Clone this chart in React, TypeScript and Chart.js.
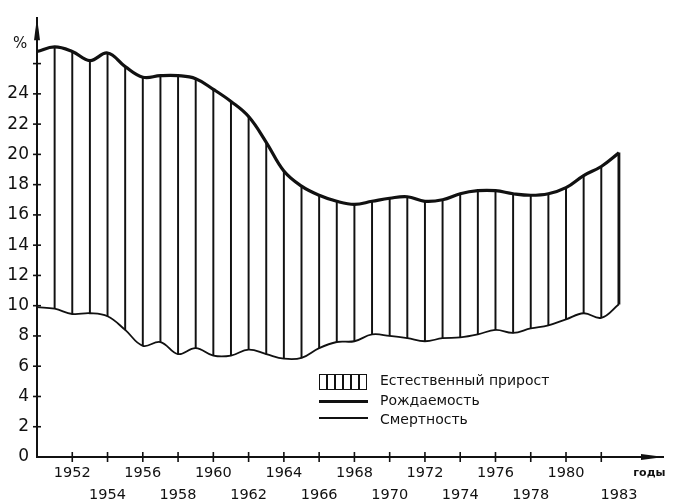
import React, { useEffect, useRef } from "react";
import { Chart, registerables } from "chart.js";

Chart.register(...registerables);

// ---- data ----
const years = [
  1950, 1951, 1952, 1953, 1954, 1955, 1956, 1957, 1958, 1959,
  1960, 1961, 1962, 1963, 1964, 1965, 1966, 1967, 1968, 1969,
  1970, 1971, 1972, 1973, 1974, 1975, 1976, 1977, 1978, 1979,
  1980, 1981, 1982, 1983,
];
// Рождаемость (birth rate, ‰)
const birthRate = [
  26.8, 27.1, 26.8, 26.2, 26.7, 25.8, 25.1, 25.2, 25.2, 25.0,
  24.3, 23.5, 22.5, 20.8, 18.9, 17.9, 17.3, 16.9, 16.7, 16.9,
  17.1, 17.2, 16.9, 17.0, 17.4, 17.6, 17.6, 17.4, 17.3, 17.4,
  17.8, 18.6, 19.2, 20.1,
];
// Смертность (death rate, ‰)
const deathRate = [
  9.9, 9.8, 9.45, 9.5, 9.3, 8.4, 7.35, 7.6, 6.8, 7.2,
  6.7, 6.7, 7.1, 6.8, 6.5, 6.55, 7.2, 7.6, 7.65, 8.1,
  8.0, 7.85, 7.65, 7.85, 7.9, 8.1, 8.4, 8.2, 8.5, 8.7,
  9.1, 9.5, 9.2, 10.1,
];
const xTickYears = [1952, 1954, 1956, 1958, 1960, 1962, 1964, 1966, 1968, 1970, 1972, 1974, 1976, 1978, 1980, 1982];
const xExtraLabelYear = 1983;
const xUnitLabel = "годы";
const xUnitLabelPos = 1984.73;
const yTicks = [0, 2, 4, 6, 8, 10, 12, 14, 16, 18, 20, 22, 24, 26];
const yLabelMax = 24;
const yUnitLabel = "%";
const legendLabels = ["Естественный прирост", "Рождаемость", "Смертность"];

const INK = "#111";
const FONT = "'DejaVu Sans', sans-serif";

const axisDecor = {
  id: "axisDecor",
  afterDraw(chart: any) {
    const { ctx } = chart;
    const xs = chart.scales.x;
    const ys = chart.scales.y;
    const ax = xs.left;
    const ay = ys.bottom;
    ctx.save();
    ctx.strokeStyle = INK;
    ctx.fillStyle = INK;
    ctx.lineWidth = 1.6;
    ys.ticks.forEach((t: any) => {
      if (t.value === 0) return;
      const p = ys.getPixelForValue(t.value);
      ctx.beginPath();
      ctx.moveTo(ax - 4, p);
      ctx.lineTo(ax + 4, p);
      ctx.stroke();
    });
    xs.ticks.forEach((t: any) => {
      if (!xTickYears.includes(t.value)) return;
      const p = xs.getPixelForValue(t.value);
      ctx.beginPath();
      ctx.moveTo(p, ay - 5);
      ctx.lineTo(p, ay + 5);
      ctx.stroke();
    });
    const top = ys.top;
    ctx.beginPath();
    ctx.moveTo(ax, top - 1);
    ctx.lineTo(ax - 3, top + 22);
    ctx.lineTo(ax + 3, top + 22);
    ctx.closePath();
    ctx.fill();
    const right = xs.right;
    ctx.beginPath();
    ctx.moveTo(right + 1, ay);
    ctx.lineTo(right - 22, ay - 3);
    ctx.lineTo(right - 22, ay + 3);
    ctx.closePath();
    ctx.fill();
    ctx.restore();
  },
};

export default function App() {
  const canvasRef = useRef<HTMLCanvasElement | null>(null);

  useEffect(() => {
    if (!canvasRef.current) return;
    const lastYear = years[years.length - 1];
    const hatch = years
      .map((y, i) => ({ x: y, y: [deathRate[i], birthRate[i]] }))
      .filter((d) => d.x > years[0]);
    const chart = new Chart(canvasRef.current, {
      type: "line",
      data: {
        datasets: [
          {
            type: "bar",
            label: legendLabels[0],
            data: hatch.filter((d) => d.x < lastYear) as any,
            backgroundColor: INK,
            borderWidth: 0,
            barThickness: 1.3,
            grouped: false,
            order: 2,
          } as any,
          {
            type: "bar",
            label: legendLabels[0],
            data: hatch.filter((d) => d.x === lastYear) as any,
            backgroundColor: INK,
            borderWidth: 0,
            barThickness: 2.2,
            grouped: false,
            order: 2,
          } as any,
          {
            type: "line",
            label: legendLabels[1],
            data: years.map((y, i) => ({ x: y, y: birthRate[i] })),
            borderColor: INK,
            borderWidth: 3.2,
            pointRadius: 0,
            tension: 0.4,
            order: 1,
          },
          {
            type: "line",
            label: legendLabels[2],
            data: years.map((y, i) => ({ x: y, y: deathRate[i] })),
            borderColor: INK,
            borderWidth: 1.8,
            pointRadius: 0,
            tension: 0.4,
            order: 1,
          },
        ],
      },
      options: {
        animation: false,
        responsive: true,
        maintainAspectRatio: false,
        layout: { padding: { top: 13, right: 16, left: 0, bottom: 0 } },
        plugins: { legend: { display: false }, tooltip: { enabled: false } },
        scales: {
          x: {
            type: "linear",
            min: 1950,
            max: 1985.5,
            offset: false,
            grid: { display: true, drawOnChartArea: false, drawTicks: false },
            border: { display: true, color: INK, width: 2 },
            afterBuildTicks: (s: any) => {
              s.ticks = [...xTickYears, xExtraLabelYear, xUnitLabelPos].map((v) => ({ value: v }));
            },
            afterFit: (s: any) => {
              s.height = 46;
            },
            ticks: {
              autoSkip: false,
              maxRotation: 0,
              minRotation: 0,
              padding: 5,
              color: INK,
              font: (c: any) =>
                c.tick && c.tick.value === xUnitLabelPos
                  ? { family: FONT, size: 11, weight: "bold", lineHeight: "22px" }
                  : { family: FONT, size: 14.5, lineHeight: "22px" },
              callback: (v: any) => {
                if (v === xUnitLabelPos) return [xUnitLabel, ""];
                if (v === xExtraLabelYear) return ["", String(v)];
                if (v === 1982) return "";
                return (v - 1952) % 4 === 0 ? [String(v), ""] : ["", String(v)];
              },
            },
          },
          y: {
            type: "linear",
            min: 0,
            max: 29,
            grid: { display: true, drawOnChartArea: false, drawTicks: false },
            border: { display: true, color: INK, width: 2 },
            afterBuildTicks: (s: any) => {
              s.ticks = yTicks.map((v) => ({ value: v }));
            },
            afterFit: (s: any) => {
              s.width = 37;
            },
            ticks: {
              padding: 8,
              color: INK,
              font: { family: FONT, size: 17 },
              callback: (v: any) => (v <= yLabelMax ? String(v) : ""),
            },
          },
        },
      },
      plugins: [axisDecor],
    });
    return () => chart.destroy();
  }, []);

  const legendText: React.CSSProperties = {
    position: "absolute",
    left: 380,
    fontFamily: FONT,
    fontSize: 14,
    color: INK,
    lineHeight: "18px",
    whiteSpace: "nowrap",
  };

  return (
    <div style={{ position: "fixed", left: 0, top: 0, width: 679, height: 503, background: "#fff" }}>
      <canvas ref={canvasRef} />
      <div style={{ position: "absolute", left: 13, top: 34, fontFamily: FONT, fontSize: 15, color: INK }}>{yUnitLabel}</div>
      <div
        style={{
          position: "absolute",
          left: 319,
          top: 374,
          width: 46,
          height: 14,
          border: `1.5px solid ${INK}`,
          background: `repeating-linear-gradient(to right, transparent 0px, transparent 6.5px, ${INK} 6.5px, ${INK} 8px)`,
        }}
      />
      <div style={{ position: "absolute", left: 319, top: 400, width: 49, height: 3, background: INK }} />
      <div style={{ position: "absolute", left: 319, top: 417, width: 49, height: 1.5, background: INK }} />
      <div style={{ ...legendText, top: 371 }}>{legendLabels[0]}</div>
      <div style={{ ...legendText, top: 391 }}>{legendLabels[1]}</div>
      <div style={{ ...legendText, top: 410 }}>{legendLabels[2]}</div>
    </div>
  );
}
